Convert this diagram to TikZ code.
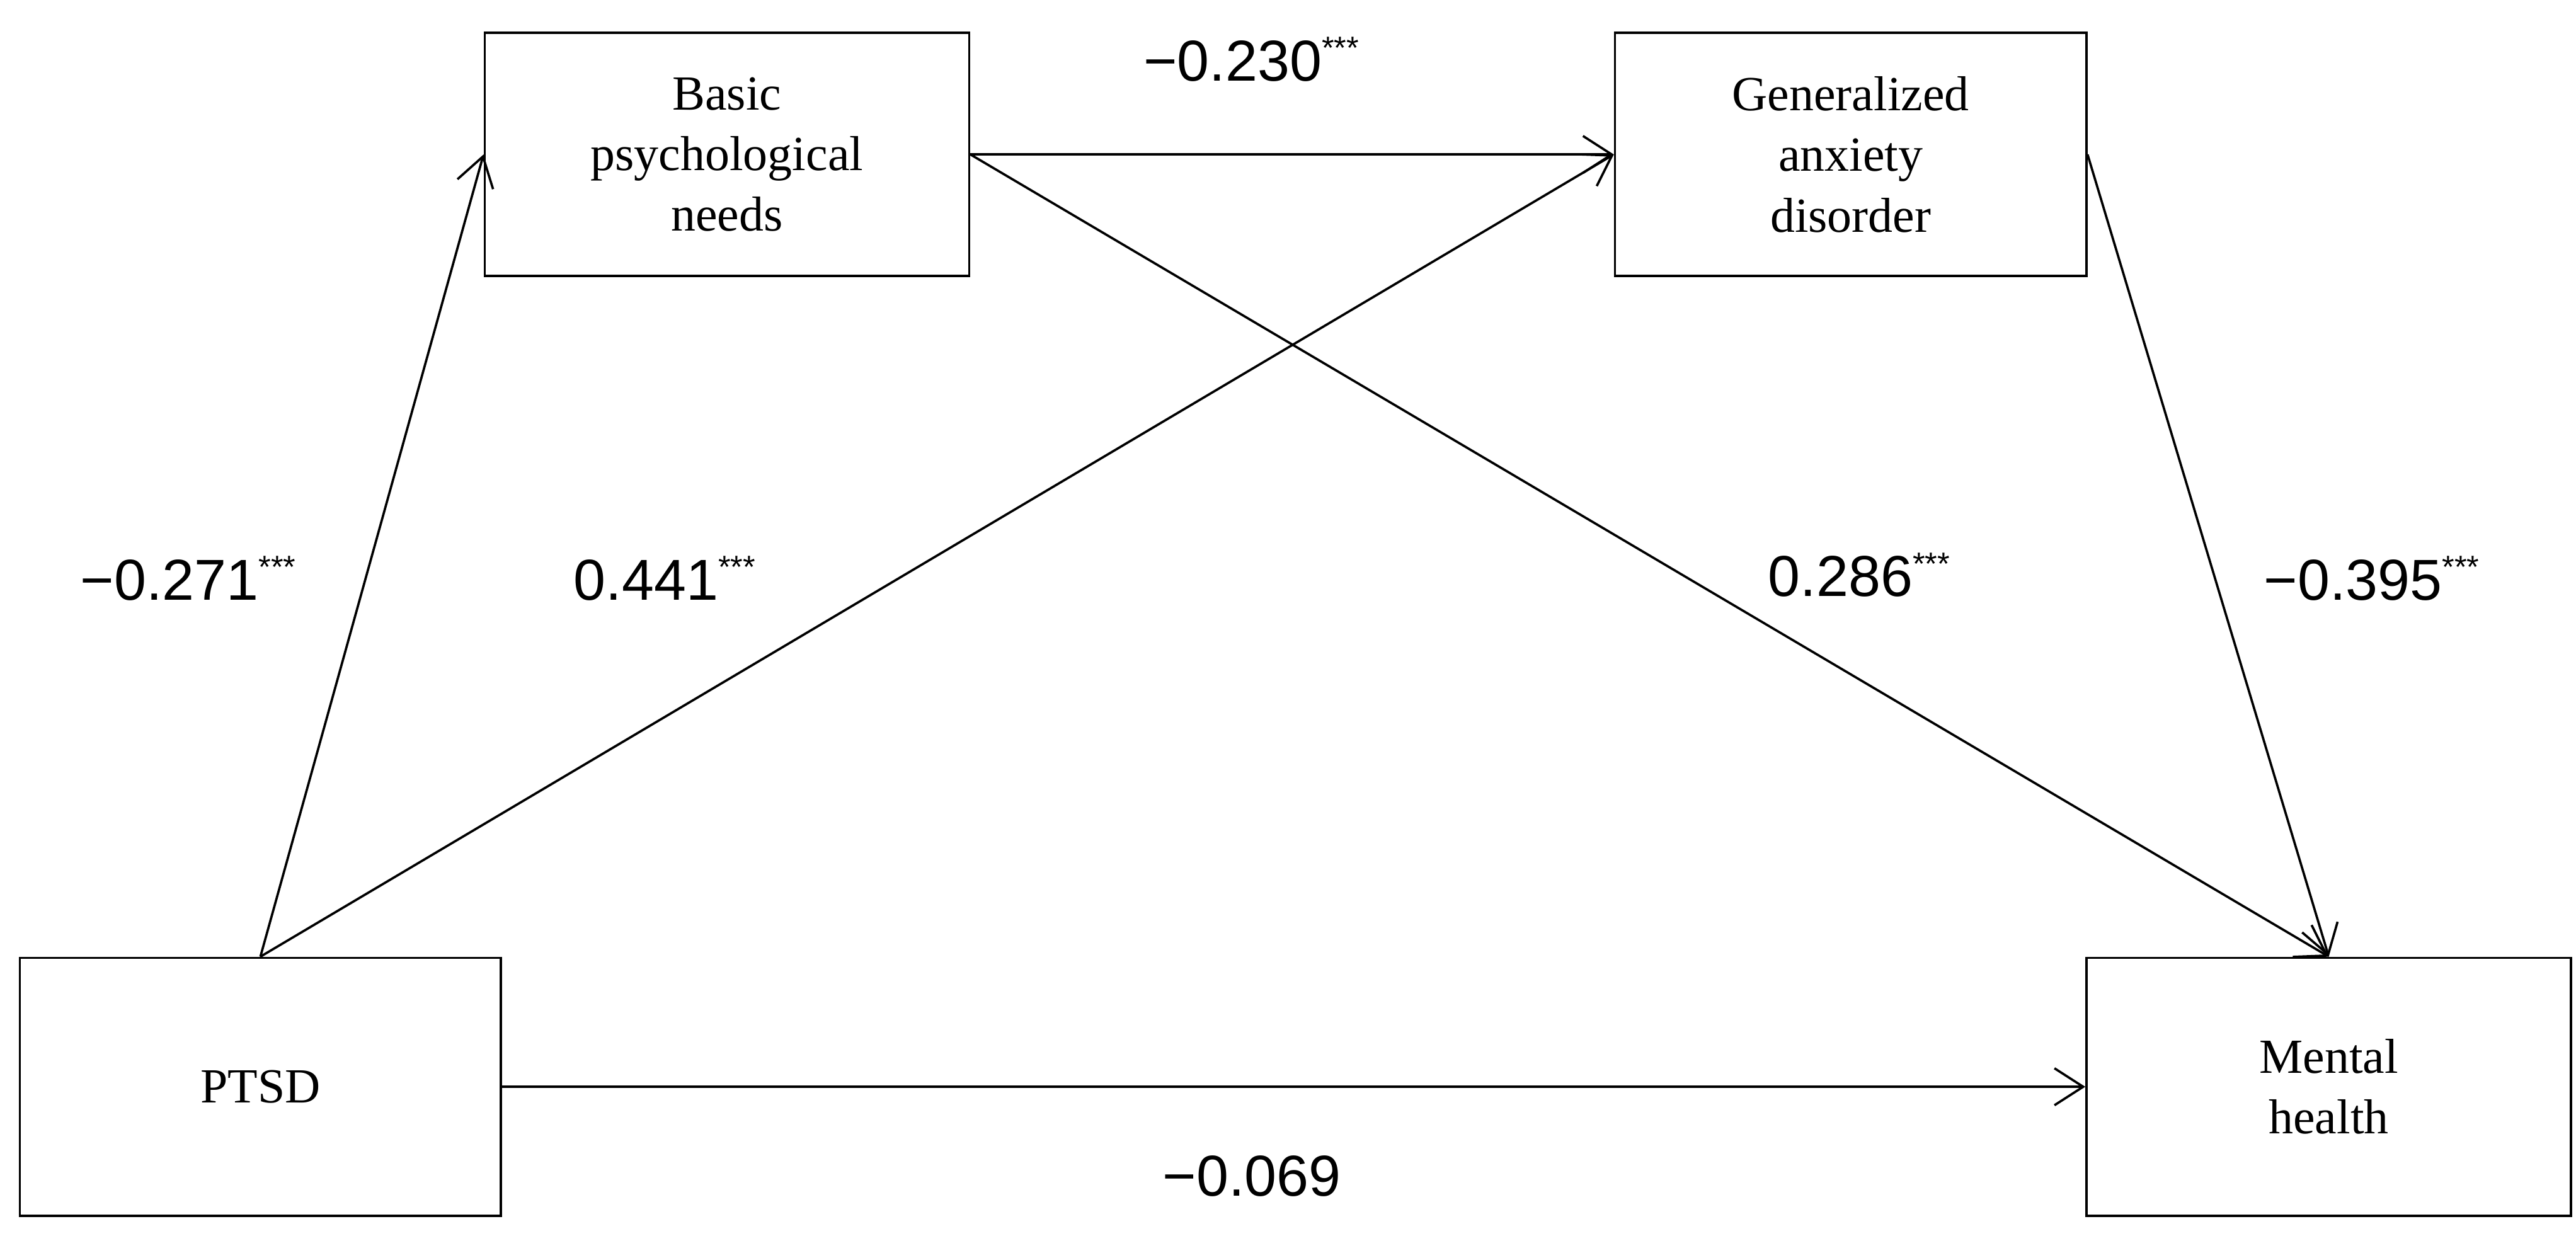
\documentclass[tikz,border=0pt]{standalone}
\usepackage{fontspec}
\setmainfont{Liberation Serif}
\newfontfamily\labelfont{Liberation Sans}
\usetikzlibrary{positioning,arrows.meta}
\newcommand{\sig}{\textsuperscript{\fontsize{11}{12}\selectfont ***}}

\begin{document}
\begin{tikzpicture}[
      x=0.02cm, y=-0.02cm,
      every node/.style={align=center},
      var/.style={draw, thick, inner sep=0pt, font=\fontsize{17}{21}\selectfont},
      coef/.style={font=\labelfont\fontsize{20}{24}\selectfont},
      arrow/.style={thick, -{Straight Barb[length=3.5mm,width=4.5mm]}}
    ]
      \useasboundingbox (0,0) rectangle (1568,752);

      \node[var, minimum width=5.9cm, minimum height=2.96cm] (needs) at (442.5,94) {Basic\\psychological\\needs};
      \node[var, minimum width=5.74cm, minimum height=2.96cm] (anxiety) at (1126.5,94) {Generalized\\anxiety\\disorder};
      \node[var, minimum width=5.86cm, minimum height=3.14cm] (ptsd) at (158.5,661.5) {PTSD};
      \node[var, minimum width=5.9cm, minimum height=3.14cm] (health) at (1417.5,661.5) {Mental\\health};

      \draw[arrow] (ptsd.north) -- (needs.west);
      \draw[arrow] (ptsd.north) -- (anxiety.west);
      \draw[arrow] (needs.east) -- (anxiety.west);
      \draw[arrow] (needs.east) -- (health.north);
      \draw[arrow] (anxiety.east) -- (health.north);
      \draw[arrow] (ptsd.east) -- (health.west);

      % path coefficients
      \node[coef] (a1) at (115,352) {−0.271\sig};
      \node[coef] (a2) at (405,352) {0.441\sig};
      \node[coef] (b1) at (762,36) {−0.230\sig};
      \node[coef] (b2) at (1132,350) {0.286\sig};
      \node[coef] (b3) at (1444,352) {−0.395\sig};
      \node[coef] (c1) at (762,716) {−0.069};

    \end{tikzpicture}
\end{document}
